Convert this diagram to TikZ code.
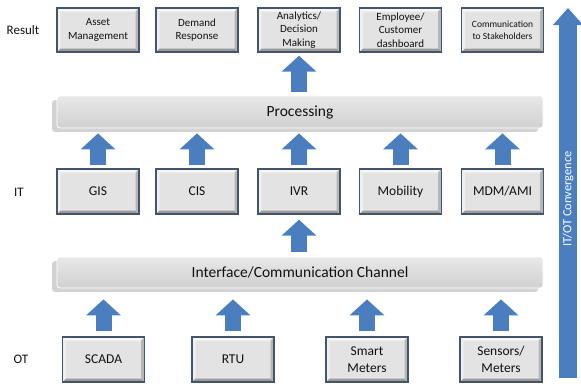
\documentclass[tikz,border=0pt]{standalone}
\usepackage{fontspec}
\setmainfont{Carlito}
\usetikzlibrary{arrows.meta,shadows}
\definecolor{boxface}{HTML}{E3E3E3}
\definecolor{boxborder}{HTML}{44546A}
\definecolor{bevtop}{HTML}{F6F6F6}
\definecolor{bevleft}{HTML}{EFEFEF}
\definecolor{bevbot}{HTML}{9A9A9A}
\definecolor{bevright}{HTML}{B6B6B6}
\definecolor{arrowblue}{HTML}{4A7EBF}
\definecolor{bartop}{HTML}{E8E8E8}
\definecolor{barbot}{HTML}{D0D0D0}
\definecolor{txt}{HTML}{111111}
\tikzset{
  bevelbox/.style={draw=boxborder, line width=1.4pt, fill=boxface,
    minimum width=82pt, minimum height=44pt, inner sep=1pt, align=center, text=txt,
    path picture={
      \fill[bevtop] (path picture bounding box.north west) -- (path picture bounding box.north east)
        -- ([xshift=-3.5pt,yshift=-3.5pt]path picture bounding box.north east)
        -- ([xshift=3.5pt,yshift=-3.5pt]path picture bounding box.north west) -- cycle;
      \fill[bevleft] (path picture bounding box.north west) -- (path picture bounding box.south west)
        -- ([xshift=3.5pt,yshift=3.5pt]path picture bounding box.south west)
        -- ([xshift=3.5pt,yshift=-3.5pt]path picture bounding box.north west) -- cycle;
      \fill[bevbot] (path picture bounding box.south west) -- (path picture bounding box.south east)
        -- ([xshift=-3.5pt,yshift=3.5pt]path picture bounding box.south east)
        -- ([xshift=3.5pt,yshift=3.5pt]path picture bounding box.south west) -- cycle;
      \fill[bevright] (path picture bounding box.north east) -- (path picture bounding box.south east)
        -- ([xshift=-3.5pt,yshift=3.5pt]path picture bounding box.south east)
        -- ([xshift=-3.5pt,yshift=-3.5pt]path picture bounding box.north east) -- cycle;
    }},
  resbox/.style={bevelbox, minimum height=44pt, font=\fontsize{11}{13.5}\selectfont},
  itbox/.style={bevelbox, minimum height=45pt, font=\fontsize{13.5}{16}\selectfont},
  otbox/.style={bevelbox, minimum height=45pt, font=\fontsize{13.5}{17}\selectfont},
  barbox/.style={rounded corners=3pt, top color=bartop, bottom color=barbot, draw=white, line width=0.8pt,
    minimum width=486pt, text=txt, font=\fontsize{15.5}{18}\selectfont,
    drop shadow={shadow xshift=-5pt, shadow yshift=-4pt, opacity=0.35, fill=gray}},
  rowlabel/.style={text=txt, font=\fontsize{13}{15}\selectfont},
  blockarrow/.style={draw=arrowblue, line width=16pt, -{Triangle[width=34pt,length=16pt]}},
  bigarrow/.style={draw=arrowblue, line width=18pt, -{Triangle[width=29pt,length=17pt]}}
}
\begin{document}
\begin{tikzpicture}[x=1pt, y=-1pt]
\useasboundingbox (0,0) rectangle (581,383);
% row labels
\node[rowlabel] (lres) at (23,30) {Result};
\node[rowlabel] (lit) at (19,192) {IT};
\node[rowlabel] (lot) at (21,359) {OT};
% result row
\node[resbox] (asset) at (98,30) {Asset\\Management};
\node[resbox] (demand) at (197,30) {Demand\\Response};
\node[resbox] (ana) at (299,30) {Analytics/\\Decision\\Making};
\node[resbox] (emp) at (400.5,30) {Employee/\\Customer\\dashboard};
\node[resbox, font=\fontsize{9.5}{11.5}\selectfont] (comm) at (502.5,30) {Communication\\to Stakeholders};
% processing
\node[barbox, minimum height=32pt] (proc) at (300,112) {Processing};
% IT row
\node[itbox] (gis) at (98,191.5) {GIS};
\node[itbox] (cis) at (197,191.5) {CIS};
\node[itbox] (ivr) at (299,191.5) {IVR};
\node[itbox] (mob) at (400.5,191.5) {Mobility};
\node[itbox] (mdm) at (502.5,191.5) {MDM/AMI};
% interface
\node[barbox, minimum height=31pt] (intf) at (300,272.5) {Interface/Communication Channel};
% OT row
\node[otbox] (scada) at (103.5,359.5) {SCADA};
\node[otbox] (rtu) at (233,359.5) {RTU};
\node[otbox] (smart) at (367,359.5) {Smart\\Meters};
\node[otbox] (sens) at (501,359.5) {Sensors/\\Meters};
% arrows
\draw[blockarrow, shorten <=4pt, shorten >=3pt] (proc.north -| ana.south) -- (ana.south);
\foreach \n in {gis,cis,ivr,mob,mdm}
  \draw[blockarrow, shorten <=3pt, shorten >=5pt] (\n.north) -- (\n.north |- proc.south);
\draw[blockarrow, shorten <=5pt, shorten >=5pt] (intf.north -| ivr.south) -- (ivr.south);
\foreach \n in {scada,rtu,smart,sens}
  \draw[blockarrow, shorten <=5pt, shorten >=11pt] (\n.north) -- (\n.north |- intf.south);
% convergence arrow
\coordinate (cbot) at (568,378);
\coordinate (ctop) at (568,8);
\draw[bigarrow] (cbot) -- (ctop);
\node[rotate=90, text=white, font=\fontsize{12.5}{15}\selectfont] (conv) at (568,199) {IT/OT Convergence};
\end{tikzpicture}
\end{document}
